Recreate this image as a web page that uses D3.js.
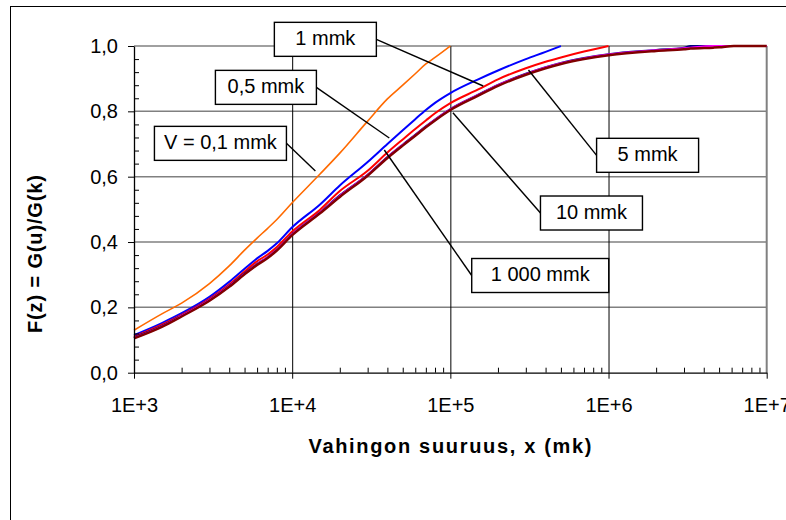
<!DOCTYPE html>
<html>
<head>
<meta charset="utf-8">
<script src="https://cdn.jsdelivr.net/npm/d3@7"></script>
<style>
body { margin: 0; background: #fff; }
text { font-family: Arial, "Liberation Sans", sans-serif; fill: #000; }
</style>
</head>
<body>
<div class="holder"></div>
<script>
// Vahingon suuruus (mk) - shared x points of all series
var xGrid = [1000, 1500, 2000, 3000, 4000, 5000, 6000, 7000, 8000, 10000, 15000, 20000, 30000, 40000, 50000,
    60000, 70000, 80000, 100000, 150000, 200000, 300000, 400000, 500000, 700000, 1e6, 2e6, 3e6, 3.3e6, 4.6e6, 5e6, 6.2e6, 1e7];

// F(z) per series, null where the series has ended
var v01 = [0.13, 0.18, 0.213, 0.273, 0.327, 0.375, 0.412, 0.442, 0.469, 0.52, 0.608, 0.672, 0.77, 0.838, 0.88,
    0.915, 0.945, 0.965, 1.0];
var v05 = [0.115, 0.152, 0.182, 0.232, 0.278, 0.318, 0.35, 0.373, 0.396, 0.445, 0.515, 0.573, 0.645, 0.70, 0.742,
    0.776, 0.804, 0.826, 0.856, 0.898, 0.925, 0.96, 0.982, 1.0];
var v1 = [0.11, 0.147, 0.177, 0.226, 0.27, 0.31, 0.341, 0.362, 0.385, 0.432, 0.499, 0.556, 0.618, 0.674, 0.714,
    0.746, 0.772, 0.794, 0.825, 0.867, 0.898, 0.932, 0.952, 0.965, 0.983, 1.0];
var v5 = [0.108, 0.143, 0.175, 0.223, 0.266, 0.304, 0.333, 0.354, 0.377, 0.424, 0.491, 0.543, 0.606, 0.66, 0.698,
    0.728, 0.754, 0.775, 0.807, 0.851, 0.881, 0.915, 0.935, 0.948, 0.963, 0.975, 0.988, 0.995, 1.0, 1.0, 1.0];
var v10 = [0.106, 0.142, 0.174, 0.222, 0.265, 0.302, 0.332, 0.353, 0.376, 0.423, 0.49, 0.541, 0.605, 0.659, 0.697,
    0.727, 0.753, 0.774, 0.806, 0.85, 0.88, 0.914, 0.934, 0.947, 0.962, 0.974, 0.987, 0.993, 0.995, 1.0, 1.0, 1.0, 1.0];
var v1000 = [0.105, 0.14, 0.172, 0.22, 0.263, 0.301, 0.33, 0.351, 0.374, 0.421, 0.488, 0.538, 0.603, 0.657, 0.695,
    0.725, 0.751, 0.772, 0.804, 0.848, 0.878, 0.912, 0.932, 0.945, 0.96, 0.972, 0.985, 0.99, 0.992, 0.995, 0.996, 1.0, 1.0];

var seriesValues = [v01, v05, v1, v5, v10, v1000];
var seriesColors = ["#ff6a00", "#0000ff", "#ff0000", "#000080", "#ff00ff", "#800000"];
var seriesWidths = [1.6, 2, 2, 2, 2, 2.5];

// labels with box centre and leader end, both in data units
var labels = ["V = 0,1 mmk", "0,5 mmk", "1 mmk", "5 mmk", "10 mmk", "1 000 mmk"];
var labelAt = [[3519, 0.702], [6822, 0.8734], [16210, 1.0204], [1.766e6, 0.6654], [7.8e5, 0.4888], [3.7e5, 0.2975]];
var pointAt = [[14020, 0.6174], [41100, 0.7184], [161400, 0.8776], [311900, 0.9265], [103800, 0.7958], [38230, 0.6817]];
var boxWidths = [132, 101, 102, 102, 102, 137];

var yTicks = [0, 0.2, 0.4, 0.6, 0.8, 1.0];
var xTicks = [1e3, 1e4, 1e5, 1e6, 1e7];

var width = 786,
    height = 520;

var fi = d3.formatLocale({"decimal": ",", "thousands": " ", "grouping": [3], "currency": ["", " mk"]});
var f1 = fi.format(".1f");

var x = d3.scaleLog().domain([1e3, 1e7]).range([134, 766.7]);
var y = d3.scaleLinear().domain([0, 1]).range([372.7, 46]);

var svg = d3.select(".holder").append("svg")
    .attr("width", width)
    .attr("height", height)

// chart frame (runs past the right and bottom edge)
svg.append("rect")
    .attr("x", 10.5).attr("y", 6.5)
    .attr("width", 900).attr("height", 700)
    .attr("fill", "none")
    .attr("stroke", "#000")

// grid
svg.append("g").selectAll("line")
    .data(yTicks.slice(1)).enter()
    .append("line")
    .attr("x1", x(1e3)).attr("x2", x(1e7))
    .attr("y1", d => y(d)).attr("y2", d => y(d))
    .attr("stroke", "#808080")
    .attr("stroke-width", 1.5)

svg.append("g").selectAll("line")
    .data(xTicks.slice(1, -1)).enter()
    .append("line")
    .attr("x1", d => x(d) + 0.5).attr("x2", d => x(d) + 0.5)
    .attr("y1", y(1)).attr("y2", y(0))
    .attr("stroke", "#000")

svg.append("line")
    .attr("x1", x(1e7)).attr("x2", x(1e7))
    .attr("y1", y(1)).attr("y2", y(0))
    .attr("stroke", "#808080")
    .attr("stroke-width", 2)

// curves
var line = d3.line()
    .defined(d => d[1] != null)
    .curve(d3.curveMonotoneX)
    .x(d => x(d[0]))
    .y(d => y(d[1]));

svg.append("g").selectAll("path")
    .data(seriesValues).enter()
    .append("path")
    .attr("d", vals => line(vals.map((v, i) => [xGrid[i], v])))
    .attr("fill", "none")
    .attr("stroke", (d, i) => seriesColors[i])
    .attr("stroke-width", (d, i) => seriesWidths[i])
    .attr("stroke-linejoin", "round")

// axes
var minorY = d3.range(0, 1.001, 0.04).filter(v => Math.abs(v * 5 - Math.round(v * 5)) > 0.01);
var minorX = x.ticks().filter(v => xTicks.indexOf(v) < 0);

svg.append("g")
    .attr("transform", "translate(" + x(1e3) + ",0)")
    .call(d3.axisLeft(y).tickValues(yTicks).tickFormat(f1).tickSize(6).tickSizeOuter(0).tickPadding(10))
    .call(g => g.selectAll("text").style("font-size", "20px").attr("fill", "#000"))

svg.append("g")
    .attr("transform", "translate(" + x(1e3) + ",0)")
    .call(d3.axisRight(y).tickValues(minorY).tickFormat("").tickSize(5).tickSizeOuter(0))
    .call(g => g.select(".domain").remove())

svg.append("g")
    .attr("transform", "translate(0," + y(0) + ")")
    .call(d3.axisBottom(x).tickValues(xTicks).tickFormat(d => "1E+" + Math.round(Math.log10(d)))
        .tickSize(6).tickSizeOuter(0).tickPadding(19))
    .call(g => g.selectAll("text").style("font-size", "20px").attr("fill", "#000"))

svg.append("g")
    .attr("transform", "translate(0," + y(0) + ")")
    .call(d3.axisTop(x).tickValues(minorX).tickFormat("").tickSize(5).tickSizeOuter(0))
    .call(g => g.select(".domain").remove())

svg.selectAll(".domain").attr("stroke-width", 1.3)

// axis titles
svg.append("text")
    .attr("x", 450).attr("y", 453)
    .attr("text-anchor", "middle")
    .attr("textLength", 283)
    .attr("lengthAdjust", "spacing")
    .style("font-size", "20px")
    .style("font-weight", "bold")
    .text("Vahingon suuruus, x (mk)")

svg.append("text")
    .attr("transform", "translate(41.5,254) rotate(-90)")
    .attr("text-anchor", "middle")
    .attr("textLength", 158)
    .attr("lengthAdjust", "spacing")
    .style("font-size", "20px")
    .style("font-weight", "bold")
    .text("F(z) = G(u)/G(k)")

// leader lines and label boxes
var boxH = 34;
var notes = labels.map((t, i) => {
    var cx = x(labelAt[i][0]), cy = y(labelAt[i][1]);
    var px = x(pointAt[i][0]), py = y(pointAt[i][1]);
    var w = boxWidths[i];
    var sx = px > cx ? cx + w / 2 : cx - w / 2;
    return {t: t, cx: cx, cy: cy, px: px, py: py, w: w, sx: sx};
});

svg.append("g").selectAll("line")
    .data(notes).enter()
    .append("line")
    .attr("x1", d => d.sx).attr("y1", d => d.cy)
    .attr("x2", d => d.px).attr("y2", d => d.py)
    .attr("stroke", "#000")
    .attr("stroke-width", 1.4)

var box = svg.append("g").selectAll("g")
    .data(notes).enter()
    .append("g")
    .attr("transform", d => "translate(" + d.cx + "," + d.cy + ")")

box.append("rect")
    .attr("x", d => -d.w / 2).attr("y", -boxH / 2)
    .attr("width", d => d.w).attr("height", boxH)
    .attr("fill", "#fff")
    .attr("stroke", "#000")
    .attr("stroke-width", 1.4)

box.append("text")
    .attr("text-anchor", "middle")
    .attr("y", 5.5)
    .style("font-size", "20px")
    .text(d => d.t)
</script>
</body>
</html>
